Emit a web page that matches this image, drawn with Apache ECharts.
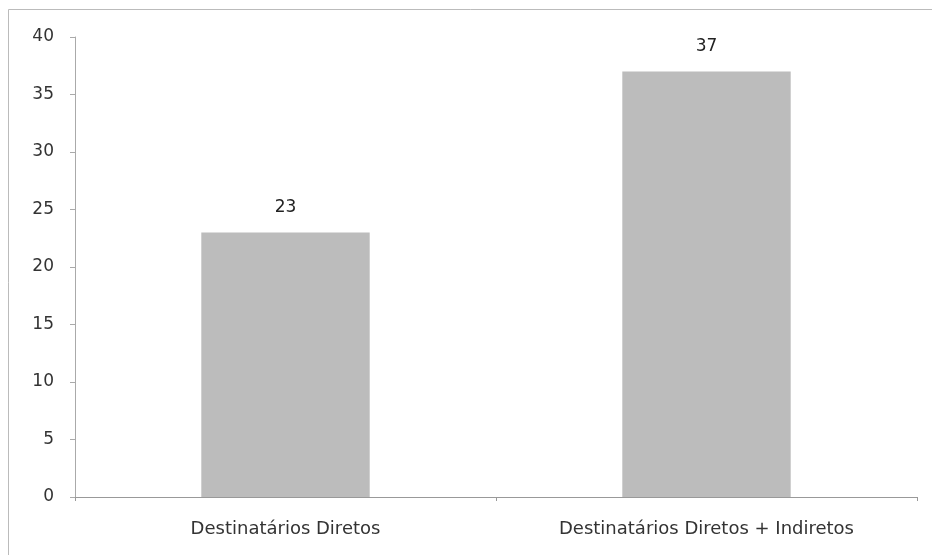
<!DOCTYPE html>
<html>
<head>
<meta charset="utf-8">
<script src="https://cdn.jsdelivr.net/npm/echarts@6/dist/echarts.min.js"></script>
<style>
html, body { margin: 0; padding: 0; background: #fff; }
#chartDom { width: 932px; height: 555px; }
</style>
</head>
<body>
<div id="chartDom"></div>
<script>
var categories = ['Destinatários Diretos', 'Destinatários Diretos + Indiretos'];
var values = [23, 37];

var chartDom = document.getElementById('chartDom');
var myChart = echarts.init(chartDom);
var option = {
  animation: false,
  textStyle: { fontFamily: 'DejaVu Sans' },
  graphic: [
    {
      type: 'rect',
      shape: { x: 8.5, y: 9.5, width: 940, height: 560 },
      style: { fill: 'none', stroke: '#bbb', lineWidth: 1 }
    }
  ],
  grid: { left: 75, right: 15, top: 37, bottom: 58 },
  xAxis: {
    type: 'category',
    data: categories,
    axisLine: { lineStyle: { color: '#999' } },
    axisTick: { show: true, alignWithLabel: false, length: 4, lineStyle: { color: '#999' } },
    axisLabel: { color: '#333', fontSize: 18, margin: 23 }
  },
  yAxis: {
    type: 'value',
    min: 0,
    max: 40,
    interval: 5,
    splitLine: { show: false },
    axisLine: { show: true, lineStyle: { color: '#aaa' } },
    axisTick: { show: true, length: 5, lineStyle: { color: '#aaa' } },
    axisLabel: { color: '#333', fontSize: 17, margin: 21 }
  },
  series: [
    {
      type: 'bar',
      data: values,
      barWidth: '40%',
      itemStyle: { color: '#bcbcbc' },
      label: { show: true, position: 'top', color: '#222', fontSize: 17, distance: 16 }
    }
  ]
};
option && myChart.setOption(option);
</script>
</body>
</html>
